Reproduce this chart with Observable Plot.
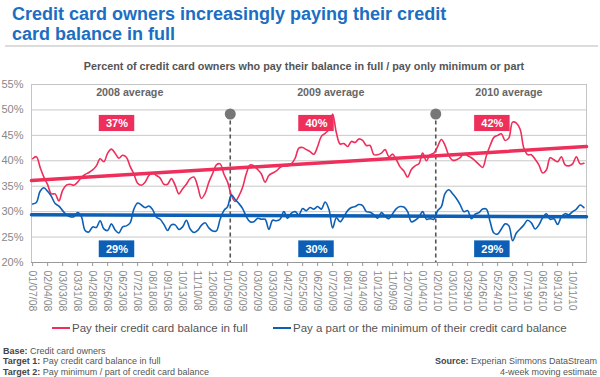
<!DOCTYPE html>
<html>
<head>
<meta charset="utf-8">
<script src="https://cdn.jsdelivr.net/npm/d3@7"></script>
<script src="https://cdn.jsdelivr.net/npm/@observablehq/plot@0.6"></script>
<style>
  html, body { margin: 0; padding: 0; background: #fff; }
  body { width: 600px; height: 377px; position: relative; overflow: hidden; font-family: "Liberation Sans", Arial, Helvetica, sans-serif; }
  .abs { position: absolute; white-space: nowrap; }
  #title { left: 12px; top: 5px; font-size: 18px; line-height: 19.5px; font-weight: bold; color: #1b6ec2; }
  #rule { left: 5px; top: 45px; width: 593px; height: 2px; background: #dcdcdc; }
  #subtitle { left: 0; width: 608px; top: 60px; text-align: center; font-size: 10.8px; line-height: 12px; font-weight: bold; color: #555; }
  #chart { left: 0; top: 76px; }
  .leg { top: 322px; font-size: 11.5px; color: #555; display: flex; align-items: center; }
  .leg i { display: inline-block; width: 18px; height: 2px; margin-right: 2px; }
  .foot { font-size: 9px; line-height: 10.3px; color: #555; }
  .foot b { color: #444; }
</style>
</head>
<body>
<div id="title" class="abs">Credit card owners increasingly paying their credit<br>card balance in full</div>
<div id="rule" class="abs"></div>
<div id="subtitle" class="abs">Percent of credit card owners who pay their balance in full / pay only minimum or part</div>
<div id="chart" class="abs"></div>
<div class="abs leg" style="left:52px"><i style="background:#ee2e5b"></i>Pay their credit card balance in full</div>
<div class="abs leg" style="left:273px"><i style="background:#0c5fb5"></i>Pay a part or the minimum of their credit card balance</div>
<div class="abs foot" style="left:3px; top:346px"><b>Base:</b> Credit card owners<br><b>Target 1:</b> Pay credit card balance in full<br><b>Target 2:</b> Pay minimum / part of credit card balance</div>
<div class="abs foot" style="right:3px; top:356.3px; text-align:right"><b>Source:</b> Experian Simmons DataStream<br>4-week moving estimate</div>
<script>
// Tick labels, one every 4 weeks (week index 0, 4, 8, ...)
const weekLabels = ["01/07/08","02/04/08","03/03/08","03/31/08","04/28/08","05/26/08","06/23/08","07/21/08","08/18/08","09/15/08","10/13/08","11/10/08","12/08/08","01/05/09","02/02/09","03/02/09","03/30/09","04/27/09","05/25/09","06/22/09","07/20/09","08/17/09","09/14/09","10/12/09","11/09/09","12/07/09","01/04/10","02/01/10","03/01/10","03/29/10","04/26/10","05/24/10","06/21/10","07/19/10","08/16/10","09/13/10","10/11/10"];

// Weekly values (4-week moving estimate), % of credit card owners
const payInFull = [
  40.4, 40.8, 38.7, 36.8, 35.3, 33.5, 33.5, 32.1, 34.2, 35.2,
  35.4, 35.2, 35.8, 36.7, 37.3, 37.7, 38.2, 39.0, 40.4, 39.8,
  41.5, 42.3, 41.5, 40.5, 41.1, 40.7, 38.9, 37.4, 35.6, 35.2,
  35.8, 37.1, 37.6, 37.1, 36.6, 35.4, 35.4, 36.5, 35.2, 33.5,
  34.5, 35.4, 36.5, 36.8, 35.0, 32.6, 33.6, 35.8, 37.5, 39.2,
  39.4, 37.4, 35.8, 33.2, 32.0, 33.1, 34.8, 37.5, 39.2, 39.0,
  38.3, 37.4, 35.8, 37.1, 37.6, 38.0, 38.7, 39.0, 39.0, 39.4,
  40.5, 42.5, 42.6, 42.2, 41.8, 41.3, 42.8, 44.8, 45.4, 46.2,
  49.2, 45.5, 43.3, 43.4, 42.8, 43.8, 43.6, 44.3, 44.0, 43.0,
  43.0, 41.2, 41.2, 41.5, 42.2, 40.8, 41.3, 40.2, 38.8, 38.0,
  36.8, 38.3, 39.0, 39.4, 41.5, 40.0, 41.2, 41.5, 42.8, 44.2,
  43.0, 41.0, 40.1, 40.2, 40.6, 41.4, 41.0, 40.6, 40.0, 39.3,
  38.7, 41.0, 43.0, 44.6, 45.0, 45.3, 44.0, 44.5, 47.6, 47.4,
  46.2, 42.5, 41.2, 41.2, 40.3, 39.2, 37.6, 38.2, 40.6, 40.2,
  39.8, 40.8, 39.2, 39.0, 39.4, 40.8, 39.4, 39.5
];
const payPart = [
  31.5, 31.8, 34.0, 34.7, 34.0, 33.0, 31.6, 31.1, 30.2, 29.4,
  29.0, 29.0, 29.8, 29.0, 26.3, 26.0, 27.0, 26.9, 28.2, 26.6,
  26.3, 27.6, 26.4, 25.8, 27.0, 27.2, 27.8, 30.5, 31.7, 31.3,
  30.8, 31.1, 30.4, 28.9, 28.5, 27.5, 26.3, 27.4, 27.4, 26.5,
  27.0, 28.3, 26.6, 25.9, 26.3, 27.3, 27.8, 26.8, 26.2, 26.2,
  28.5, 30.2, 31.0, 33.3, 32.4, 31.6, 30.6, 29.0, 28.0, 28.0,
  28.7, 28.5, 28.5, 26.5, 28.3, 28.2, 28.5, 30.0, 28.7, 29.7,
  30.0, 29.4, 30.6, 30.2, 30.8, 30.5, 31.0, 30.5, 31.9, 30.5,
  26.8, 28.8, 28.0, 29.0, 30.2, 30.8, 31.0, 31.4, 31.2, 30.0,
  29.9, 29.4, 28.7, 29.8, 29.1, 28.6, 29.6, 30.6, 31.0, 30.9,
  30.0, 28.0, 28.3, 28.9, 30.0, 28.5, 28.6, 28.5, 30.2, 31.0,
  33.6, 34.3, 33.5, 32.6, 31.4, 30.0, 30.2, 28.6, 29.5, 29.8,
  30.5, 30.5, 28.0, 25.8, 25.6, 26.6, 27.6, 27.2, 24.3, 25.8,
  26.6, 27.4, 28.3, 27.8, 26.6, 27.4, 28.8, 29.6, 28.5, 28.6,
  27.5, 29.0, 29.6, 29.4, 30.0, 30.5, 31.3, 30.8
];
// Linear trend (start, end)
const trendFull = [36.1, 42.8];
const trendPart = [29.4, 29.0];
// Yearly averages
const yearLabels = ["2008 average", "2009 average", "2010 average"];
const avgFull = [37, 40, 42];
const avgPart = [29, 30, 29];
// Year dividers (week index)
const dividers = [52.7, 107.5];

const RED = "#ee2e5b", BLUE = "#0c5fb5";
const xDomain = [-0.3, 147.7];
const full = payInFull.map((v, i) => ({w: i, v}));
const part = payPart.map((v, i) => ({w: i, v}));
const tFull = trendFull.map((v, i) => ({w: xDomain[i], v}));
const tPart = trendPart.map((v, i) => ({w: xDomain[i], v}));
const labelX = [25.9, 79.5, 127];   // annotation anchors (week)
const boxX = [22.5, 75.7, 122.6];
const ann = yearLabels.map((t, i) => ({t, x: labelX[i], bx: boxX[i], f: avgFull[i] + "%", p: avgPart[i] + "%"}));
const tickWeeks = weekLabels.map((_, i) => i * 4);

const chart = Plot.plot({
  width: 600, height: 242,
  marginTop: 8, marginBottom: 56, marginLeft: 31, marginRight: 14,
  x: {domain: xDomain, label: null},
  y: {domain: [20, 55], label: null},
  style: {fontFamily: '"Liberation Sans", Arial, sans-serif', background: "transparent", color: "#888"},
  marks: [
    Plot.gridY([25, 30, 35, 40, 45, 50], {stroke: "#c8c8c8", strokeOpacity: 1, strokeWidth: 1}),
    Plot.frame({stroke: "#c4c4c4", strokeWidth: 1}),
    Plot.axisY({ticks: [20, 25, 30, 35, 40, 45, 50, 55], tickFormat: d => d + "%", tickSize: 0, tickPadding: 8, fontSize: 11, fill: "#888", label: null}),
    Plot.axisX({ticks: tickWeeks, tickFormat: w => weekLabels[w / 4], tickRotate: 90, tickSize: 4, tickPadding: 4, fontSize: 10.5, fill: "#888", stroke: "#999", label: null}),
    Plot.ruleY([20], {stroke: "#999"}),
    Plot.ruleX(dividers, {y1: 49.2, y2: 20, stroke: "#555", strokeWidth: 1.6, strokeDasharray: "4,3"}),
    Plot.dot(dividers, {x: d => d, y: 49.2, r: 5.5, fill: "#777", stroke: "none"}),
    Plot.line(full, {x: "w", y: "v", stroke: RED, strokeWidth: 1.6, curve: "catmull-rom"}),
    Plot.line(part, {x: "w", y: "v", stroke: BLUE, strokeWidth: 1.6, curve: "catmull-rom"}),
    Plot.line(tFull, {x: "w", y: "v", stroke: RED, strokeWidth: 3.5}),
    Plot.line(tPart, {x: "w", y: "v", stroke: BLUE, strokeWidth: 3.5}),
    Plot.text(ann, {x: "x", y: 53.4, text: "t", fontSize: 10.7, fontWeight: "bold", fill: "#666"}),
    Plot.rect(ann, {x1: d => d.bx - 4.73, x2: d => d.bx + 4.73, y1: 45.75, y2: 48.92, fill: RED}),
    Plot.rect(ann, {x1: d => d.bx - 4.73, x2: d => d.bx + 4.73, y1: 20.95, y2: 24.25, fill: BLUE}),
    Plot.text(ann, {x: "bx", y: 47.33, text: "f", fontSize: 11, fontWeight: "bold", fill: "#fff"}),
    Plot.text(ann, {x: "bx", y: 22.6, text: "p", fontSize: 11, fontWeight: "bold", fill: "#fff"})
  ]
});
document.getElementById("chart").appendChild(chart);
</script>
</body>
</html>
